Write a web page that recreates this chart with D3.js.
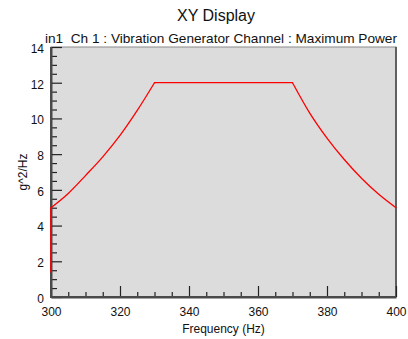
<!DOCTYPE html>
<html>
<head>
<meta charset="utf-8">
<script src="https://cdn.jsdelivr.net/npm/d3@7"></script>
<style>
  html, body { margin: 0; padding: 0; background: #fff; }
  svg { display: block; font-family: "Liberation Sans", Arial, sans-serif; }
</style>
</head>
<body>
<svg id="chart" width="408" height="339"></svg>
<script>
// ---- data ----
const title = "XY Display";
const subtitle = "in1  Ch 1 : Vibration Generator Channel : Maximum Power";
const xLabel = "Frequency (Hz)";
const yLabel = "g^2/Hz";
// vertical start segment at 300 Hz
const startFreq  = [300, 300];
const startPower = [1.4, 5.0];
// rising ramp
const riseFreq  = [300, 305, 310, 315, 320, 325, 330];
const risePower = [5.0, 5.8, 6.8, 7.85, 9.05, 10.45, 12.0];
// plateau
const flatFreq  = [330, 370];
const flatPower = [12.0, 12.0];
// falling ramp
const fallFreq  = [370, 375, 380, 385, 390, 395, 400];
const fallPower = [12.0, 10.3, 8.9, 7.7, 6.65, 5.75, 5.0];
const xTicks = [300, 320, 340, 360, 380, 400];
const yTicks = [0, 2, 4, 6, 8, 10, 12, 14];

// ---- layout ----
const svg = d3.select("#chart");
const L = 51, R = 396, T = 47, B = 297;
const x = d3.scaleLinear().domain([300, 400]).range([L, R]);
const y = d3.scaleLinear().domain([0, 14]).range([B, T]);

// plot background
svg.append("rect")
  .attr("x", L).attr("y", T).attr("width", R - L).attr("height", B - T)
  .attr("fill", "#dcdcdc").attr("stroke", "#8a8a8a").attr("stroke-width", 1);
svg.append("line").attr("x1", R).attr("x2", R).attr("y1", T).attr("y2", B)
  .attr("stroke", "#606060").attr("stroke-width", 2);

// minor ticks
const xMinor = d3.range(300, 401, 5).filter(v => !xTicks.includes(v));
const yMinor = d3.range(0, 14.01, 0.5).filter(v => !yTicks.includes(v));
svg.append("g").attr("transform", `translate(0,${B})`)
  .call(d3.axisBottom(x).tickValues(xMinor).tickSize(-5).tickFormat(""))
  .call(g => g.select(".domain").remove())
  .selectAll("line").attr("stroke", "#222").attr("stroke-width", 1.2);
svg.append("g").attr("transform", `translate(${L},0)`)
  .call(d3.axisLeft(y).tickValues(yMinor).tickSize(-6).tickFormat(""))
  .call(g => g.select(".domain").remove())
  .selectAll("line").attr("stroke", "#222").attr("stroke-width", 1.2);

// major axes
const xAxis = svg.append("g").attr("transform", `translate(0,${B})`)
  .call(d3.axisBottom(x).tickValues(xTicks).tickSize(-11).tickSizeOuter(0).tickPadding(10).tickFormat(d3.format("d")));
const yAxis = svg.append("g").attr("transform", `translate(${L},0)`)
  .call(d3.axisLeft(y).tickValues(yTicks).tickSize(-11).tickSizeOuter(0).tickPadding(7).tickFormat(d3.format("d")));
[xAxis, yAxis].forEach(g => {
  g.select(".domain").attr("stroke", "#4a4a4a").attr("stroke-width", 2);
  g.selectAll(".tick line").attr("stroke", "#222").attr("stroke-width", 1.2);
  g.selectAll(".tick text").attr("fill", "#111").style("font-size", "12px")
    .style("font-family", "'Liberation Sans', Arial, sans-serif");
});
yAxis.selectAll(".tick text").attr("dy", "0.45em");
svg.append("line").attr("x1", L - 1).attr("x2", R).attr("y1", B).attr("y2", B)
  .attr("stroke", "#4a4a4a").attr("stroke-width", 2);
svg.append("line").attr("x1", L).attr("x2", L).attr("y1", T).attr("y2", B + 1)
  .attr("stroke", "#4a4a4a").attr("stroke-width", 2);

// curves
function drawSeg(fx, py, curve, width) {
  const gen = d3.line().x((d, i) => x(fx[i])).y((d, i) => y(py[i])).curve(curve);
  svg.append("path").datum(py)
    .attr("d", gen)
    .attr("fill", "none").attr("stroke", "#ff0000").attr("stroke-width", width)
    .attr("stroke-linejoin", "round").attr("stroke-linecap", "round");
}
drawSeg(startFreq, startPower, d3.curveLinear, 1.6);
drawSeg(riseFreq, risePower, d3.curveMonotoneX, 1.3);
drawSeg(flatFreq, flatPower, d3.curveLinear, 1.3);
drawSeg(fallFreq, fallPower, d3.curveMonotoneX, 1.3);

// texts
svg.append("text").attr("x", 216).attr("y", 21).attr("text-anchor", "middle")
  .style("font-size", "16px").attr("fill", "#111").text(title);
svg.append("text").attr("x", 45).attr("y", 43)
  .attr("xml:space", "preserve").style("white-space", "pre")
  .attr("textLength", 352).attr("lengthAdjust", "spacingAndGlyphs")
  .style("font-size", "13px").attr("fill", "#111").text(subtitle);
svg.append("text").attr("x", 223.5).attr("y", 333).attr("text-anchor", "middle")
  .style("font-size", "12px").attr("fill", "#111").text(xLabel);
svg.append("text").attr("transform", "translate(27,172) rotate(-90)")
  .attr("text-anchor", "middle")
  .style("font-size", "12px").attr("fill", "#111").text(yLabel);
</script>
</body>
</html>
